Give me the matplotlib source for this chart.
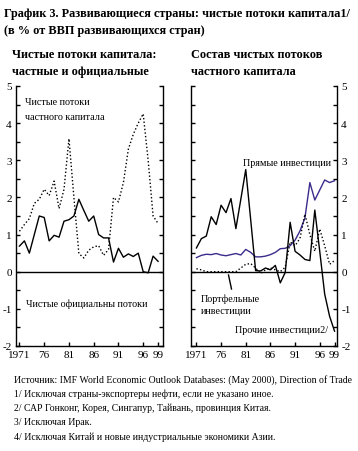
import matplotlib
matplotlib.use("Agg")
import matplotlib.pyplot as plt
from matplotlib.ticker import MultipleLocator, FixedLocator

years = list(range(1971, 2000))

# Left panel: net capital flows (% of GDP)
private_flows = [1.09, 1.27, 1.43, 1.84, 1.95, 2.22, 2.05, 2.44, 1.70, 2.22,
                 3.58, 2.00, 0.49, 0.37, 0.58, 0.67, 0.70, 0.44, 0.60, 2.00,
                 1.88, 2.40, 3.30, 3.70, 4.00, 4.25, 3.00, 1.50, 1.30]
official_flows = [0.69, 0.83, 0.50, 1.00, 1.50, 1.46, 0.83, 0.98, 0.93, 1.36,
                  1.40, 1.50, 1.95, 1.65, 1.36, 1.50, 1.00, 0.91, 0.91, 0.26,
                  0.63, 0.39, 0.48, 0.41, 0.50, 0.00, -0.03, 0.42, 0.28]

# Right panel: composition of net private flows
direct_inv = [0.38, 0.44, 0.47, 0.46, 0.49, 0.45, 0.43, 0.46, 0.49, 0.45,
              0.60, 0.52, 0.40, 0.40, 0.42, 0.46, 0.52, 0.62, 0.63, 0.70,
              0.85, 1.10, 1.45, 2.40, 1.93, 2.20, 2.47, 2.40, 2.45]
portfolio_inv = [0.08, 0.05, 0.00, 0.00, 0.00, 0.00, 0.00, 0.00, 0.00, 0.10,
                 0.20, 0.22, 0.10, -0.05, 0.05, 0.10, 0.05, 0.00, 0.12, 0.80,
                 0.70, 0.90, 1.55, 1.00, 0.55, 1.15, 0.70, 0.20, 0.30]
other_inv = [0.64, 0.89, 0.96, 1.48, 1.27, 1.79, 1.59, 1.97, 1.16, 1.95,
             2.75, 1.40, 0.03, 0.02, 0.10, 0.05, 0.17, -0.30, -0.02, 1.33,
             0.55, 0.45, 0.33, 0.30, 1.66, 0.55, -0.60, -1.20, -1.60]

xtick_pos = [1971, 1976, 1981, 1986, 1991, 1996, 1999]
xtick_lab = ["1971", "76", "81", "86", "91", "96", "99"]
ytick_pos = [-2, -1, 0, 1, 2, 3, 4, 5]

title1 = "График 3. Развивающиеся страны: чистые потоки капитала1/"
title2 = "(в % от ВВП развивающихся стран)"
sub_left = ["Чистые потоки капитала:", "частные и официальные"]
sub_right = ["Состав чистых потоков", "частного капитала"]
footnotes = [
    "Источник: IMF World Economic Outlook Databases: (May 2000), Direction of Trade",
    "1/ Исключая страны-экспортеры нефти, если не указано иное.",
    "2/ САР Гонконг, Корея, Сингапур, Тайвань, провинция Китая.",
    "3/ Исключая Ирак.",
    "4/ Исключая Китай и новые индустриальные экономики Азии.",
]

plt.rcParams['font.family'] = ['Liberation Serif', 'DejaVu Serif']
W, H = 358, 452
fig = plt.figure(figsize=(W / 100, H / 100), dpi=100)
fig.patch.set_facecolor('white')

def px(x, y):
    return x / W, 1 - y / H

axL = fig.add_axes([16 / W, 1 - 347 / H, 147 / W, 260 / H])
axR = fig.add_axes([191 / W, 1 - 347 / H, 146 / W, 260 / H])

PURPLE = '#3c2a8c'

axL.plot(years, private_flows, color='black', lw=1.0, ls=(0, (1, 1.6)))
axL.plot(years, official_flows, color='black', lw=1.0)
axR.plot(years, direct_inv, color=PURPLE, lw=1.0)
axR.plot(years, portfolio_inv, color='black', lw=1.0, ls=(0, (1, 1.6)))
axR.plot(years, other_inv, color='black', lw=1.0)

for ax, xl, side in ((axL, (1970.3, 2000.0), 'left'), (axR, (1969.9, 1999.5), 'right')):
    ax.set_xlim(*xl)
    ax.set_ylim(-2, 5)
    ax.axhline(0, color='black', lw=1.0)
    ax.spines['top'].set_visible(False)
    for s in ('left', 'right', 'bottom'):
        ax.spines[s].set_linewidth(1.0)
    ax.xaxis.set_major_locator(FixedLocator(xtick_pos))
    ax.set_xticklabels(xtick_lab, fontsize=8)
    ax.yaxis.set_major_locator(FixedLocator(ytick_pos))
    ax.yaxis.set_minor_locator(MultipleLocator(0.5))
    ax.set_yticklabels([str(v) for v in ytick_pos], fontsize=8)
    ax.tick_params(axis='x', direction='in', length=3, width=1, pad=3)
    ax.tick_params(axis='y', which='both', direction='in', length=3, width=1,
                   left=True, right=True, pad=3)
    if side == 'left':
        ax.tick_params(axis='y', labelleft=True, labelright=False)
    else:
        ax.tick_params(axis='y', labelleft=False, labelright=True)
    for lab in ax.get_yticklabels() + ax.get_xticklabels():
        lab.set_fontsize(8)

# Title and subtitles
fig.text(*px(4, 14), title1, fontsize=8.8, fontweight='bold', va='center', ha='left')
fig.text(*px(4, 31), title2, fontsize=8.8, fontweight='bold', va='center', ha='left')
fig.text(*px(12, 55), sub_left[0], fontsize=8.8, fontweight='bold', va='center', ha='left')
fig.text(*px(12, 72), sub_left[1], fontsize=8.8, fontweight='bold', va='center', ha='left')
fig.text(*px(191, 55), sub_right[0], fontsize=8.8, fontweight='bold', va='center', ha='left')
fig.text(*px(191, 72), sub_right[1], fontsize=8.8, fontweight='bold', va='center', ha='left')

# Series labels
lab_fs = 7.3
fig.text(*px(25, 103), "Чистые потоки", fontsize=lab_fs, va='center', ha='left')
fig.text(*px(25, 118), "частного капитала", fontsize=lab_fs, va='center', ha='left')
fig.text(*px(26, 304), "Чистые официальны потоки", fontsize=lab_fs, va='center', ha='left')
fig.text(*px(243, 163), "Прямые инвестиции", fontsize=lab_fs, va='center', ha='left')
fig.text(*px(201, 299), "Портфельные", fontsize=lab_fs, va='center', ha='left')
fig.text(*px(201, 312), "инвестиции", fontsize=lab_fs, va='center', ha='left')
fig.text(*px(235, 331), "Прочие инвестиции2/", fontsize=lab_fs, va='center', ha='left')
fig.add_artist(plt.Line2D([228.5 / W, 231.5 / W], [1 - 276 / H, 1 - 290 / H],
                          color='black', lw=1.0, transform=fig.transFigure))

# Footnotes
for i, t in enumerate(footnotes):
    fig.text(*px(14, 380 + i * 14.3), t, fontsize=7.0, va='center', ha='left')

fig.savefig('out.png', dpi=100, facecolor='white')
